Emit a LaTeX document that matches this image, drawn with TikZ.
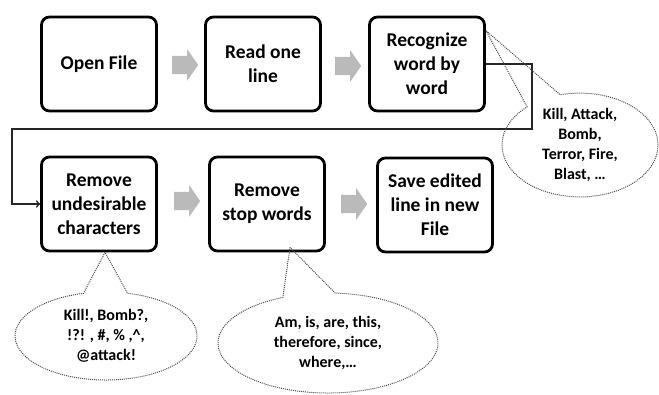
\documentclass[tikz,border=0pt]{standalone}
\usepackage{fontspec}
\setmainfont{Carlito}
\usetikzlibrary{shapes.arrows,shapes.callouts}
\tikzset{
  stepbox/.style={draw, line width=2.8pt, rounded corners=8pt, minimum width=115pt, minimum height=94pt,
    align=center, inner sep=2pt, font=\fontsize{19.5}{24}\selectfont\bfseries},
  graystep/.style={single arrow, fill=black!27, draw=none, inner xsep=0pt, inner ysep=9pt,
    minimum height=26pt, single arrow head extend=6.5pt, single arrow tip angle=110},
  bubble/.style={ellipse callout, draw=black!70, densely dotted, line width=1pt, align=center,
    inner sep=0pt, callout pointer arc=28, font=\fontsize{16}{20}\selectfont\bfseries},
  link/.style={draw=black!85, line width=1.6pt, ->},
}
\begin{document}
\begin{tikzpicture}[x=1pt,y=-1pt]
  \useasboundingbox (0,0) rectangle (659,394);
  % first row
  \node[stepbox] (open) at (99,64) {Open File};
  \node[stepbox] (read) at (263,64) {Read one\\line};
  \node[stepbox] (recog) at (427,64) {Recognize\\word by\\word};
  \node[graystep] (ar1) at (182,65) {};
  \node[graystep] (ar2) at (345,66) {};
  % second row
  \node[stepbox] (undes) at (99,204) {Remove\\undesirable\\characters};
  \node[stepbox] (stopw) at (267,204) {Remove\\stop words};
  \node[stepbox] (save) at (435,205) {Save edited\\line in new\\File};
  \node[graystep] (ar3) at (184,201) {};
  \node[graystep] (ar4) at (351,204) {};
  % row change
  \draw[link] (recog.east) -| (532,129) -| ([xshift=-28pt]undes.west) -- (undes.west);
  % examples
  \node[bubble, minimum width=156pt, minimum height=96pt,
    callout absolute pointer={([yshift=-15pt]recog.north east)}] (kw) at (580,145)
    {Kill, Attack,\\Bomb,\\Terror, Fire,\\Blast, \ldots};
  \node[bubble, minimum width=182pt, minimum height=88pt,
    callout absolute pointer={([xshift=6pt]undes.south)}] (chars) at (106,336)
    {Kill!, Bomb?,\\!?! , \#, \% ,\^{},\\@attack!};
  \node[bubble, minimum width=220pt, minimum height=100pt,
    callout absolute pointer={([xshift=23pt,yshift=5pt]stopw.south)}] (stop) at (328,343)
    {Am, is, are, this,\\therefore, since,\\where,\ldots};
\end{tikzpicture}
\end{document}
